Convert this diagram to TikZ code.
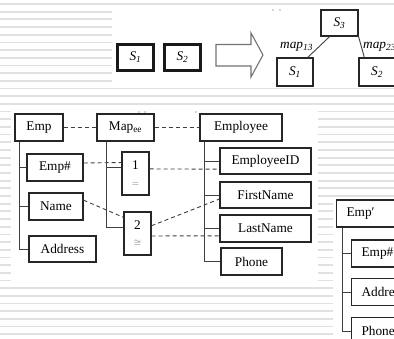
\documentclass[tikz,border=0pt]{standalone}
\usepackage{fontspec}
\setmainfont{Liberation Serif}

\begin{document}
\begin{tikzpicture}[x=1pt,y=1pt,yscale=-1,xscale=1,
  font=\fontsize{13.3}{15}\selectfont,
  box/.style={draw=black!85,line width=1.1pt,inner sep=0pt,minimum height=26},
  thickbox/.style={draw=black!90,line width=2.6pt,inner sep=0pt,minimum width=36,minimum height=26},
  lbox/.style={box,anchor=west,align=left,text width=70,inner xsep=10},
  mbox/.style={box,align=center,minimum width=27,minimum height=43},
  tree/.style={draw=black!75,line width=0.9pt},
  link/.style={draw=black!75,line width=0.9pt,dash pattern=on 4pt off 3pt},
  stripe/.style={draw=black!12,line width=1.8pt},
  panel/.style={fill=white,draw=none}]
\useasboundingbox (0,0) rectangle (394,338);
\clip (0,0) rectangle (394,338);

% background
\foreach \i in {0,...,43} \draw[stripe] (0,{4+\i*7.68}) -- (394,{4+\i*7.68});
\fill[panel] (112,6) rectangle (394,87);
\fill[panel] (11,109) rectangle (318,282);
\fill[panel] (333,197) rectangle (394,338);

% leftovers of cut text
\fill[black!70] (273,10) circle (0.7) (280,10) circle (0.7);
\fill[black!70] (139,112) circle (0.7) (145,112) circle (0.7) (196,112) circle (0.7);

% Text Node
\draw (135.5,57.5) node [thickbox] (sa) {\textit{S\textsubscript{1}}};
% Text Node
\draw (182.5,57.5) node [thickbox] (sb) {\textit{S\textsubscript{2}}};
% Text Node
\draw (339.5,23) node [box,minimum width=37] (sc) {\textit{S\textsubscript{3}}};
% Text Node
\draw (295,72) node [box,minimum width=36,minimum height=28] (rsa) {\textit{S\textsubscript{1}}};
% Text Node
\draw (377,72) node [box,minimum width=36,minimum height=28] (rsb) {\textit{S\textsubscript{2}}};
% Text Node
\draw (280,47) node [anchor=west,inner sep=0pt] (lmapa) {\textit{map\textsubscript{13}}};
% Text Node
\draw (363,47) node [anchor=west,inner sep=0pt] (lmapb) {\textit{map\textsubscript{23}}};
% Arrow
\draw [draw=black!55,line width=1.1pt,fill=white] (216,44.5) -- (251,44.5) -- (251,33) -- (263,55) -- (251,77) -- (251,66) -- (216,66) -- cycle;
% Connection
\draw [tree] (sc.234) -- (rsa.49);
% Connection
\draw [tree] (sc.south east) -- (rsb.131);

% Text Node
\draw (39,127.5) node [box,minimum width=48,minimum height=27] (emp) {Emp};
% Text Node
\draw (125.5,127.5) node [box,minimum width=57,minimum height=27] (map) {Map\textsubscript{ee}};
% Text Node
\draw (241,127.5) node [box,minimum width=82,minimum height=27] (employee) {Employee};
% Text Node
\draw (55,167.5) node [box,minimum width=56,minimum height=27] (empno) {Emp\#};
% Text Node
\draw (56,206.5) node [box,minimum width=54,minimum height=27] (name) {Name};
% Text Node
\draw (62.5,249) node [box,minimum width=67] (address) {Address};
% Text Node
\draw (135.5,173.5) node [mbox] (ma) {1\\[2pt]{\small\color{black!60}$=$}};
% Text Node
\draw (137.5,233.5) node [mbox] (mb) {2\\[2pt]{\small\color{black!60}$\cong$}};
% Text Node
\draw (265.5,161) node [box,minimum width=91] (eid) {EmployeeID};
% Text Node
\draw (265.5,195) node [box,minimum width=91] (fname) {FirstName};
% Text Node
\draw (265.5,228.5) node [box,minimum width=91,minimum height=27] (lname) {LastName};
% Text Node
\draw (251.5,261.5) node [box,minimum width=61,minimum height=27] (phone) {Phone};

% Text Node
\draw (336,213.5) node [lbox,minimum height=27] (empp) {Emp\char"2032};
% Text Node
\draw (351,253.5) node [lbox,minimum height=27] (pempno) {Emp\#};
% Text Node
\draw (351,292) node [lbox,minimum height=27] (paddress) {Address};
% Text Node
\draw (351,331) node [lbox,minimum height=27] (pphone) {Phone};

\coordinate (emptrunk) at ([xshift=5pt]emp.south west);
\coordinate (maptrunk) at ([xshift=10pt]map.south west);
\coordinate (employeetrunk) at ([xshift=5pt]employee.south west);
\coordinate (empptrunk) at ([xshift=6pt]empp.south west);

% Connection
\draw [tree] (emptrunk) |- (address.west);
% Connection
\draw [tree] (emptrunk) |- (empno.west);
% Connection
\draw [tree] (emptrunk) |- (name.west);
% Connection
\draw [tree] (maptrunk) |- (mb.155);
% Connection
\draw [tree] (maptrunk) |- (ma.158);
% Connection
\draw [tree] (employeetrunk) |- (phone.west);
% Connection
\draw [tree] (employeetrunk) |- (eid.west);
% Connection
\draw [tree] (employeetrunk) |- (fname.west);
% Connection
\draw [tree] (employeetrunk) |- (lname.west);
% Connection
\draw [tree] (empptrunk) |- (pphone.west);
% Connection
\draw [tree] (empptrunk) |- (pempno.west);
% Connection
\draw [tree] (empptrunk) |- (paddress.west);

% Connection
\draw [link] (emp.east) -- (map.west);
% Connection
\draw [link] (map.east) -- (employee.west);
% Connection
\draw [link] (empno.9) -- (ma.142);
% Connection
\draw [link] (ma.18) -- (eid.190);
% Connection
\draw [link] (name.13) -- (mb.131);
% Connection
\draw [link] (mb.29) -- (fname.185);
% Connection
\draw [link] (mb.-10) -- (lname.189);

\end{tikzpicture}
\end{document}
